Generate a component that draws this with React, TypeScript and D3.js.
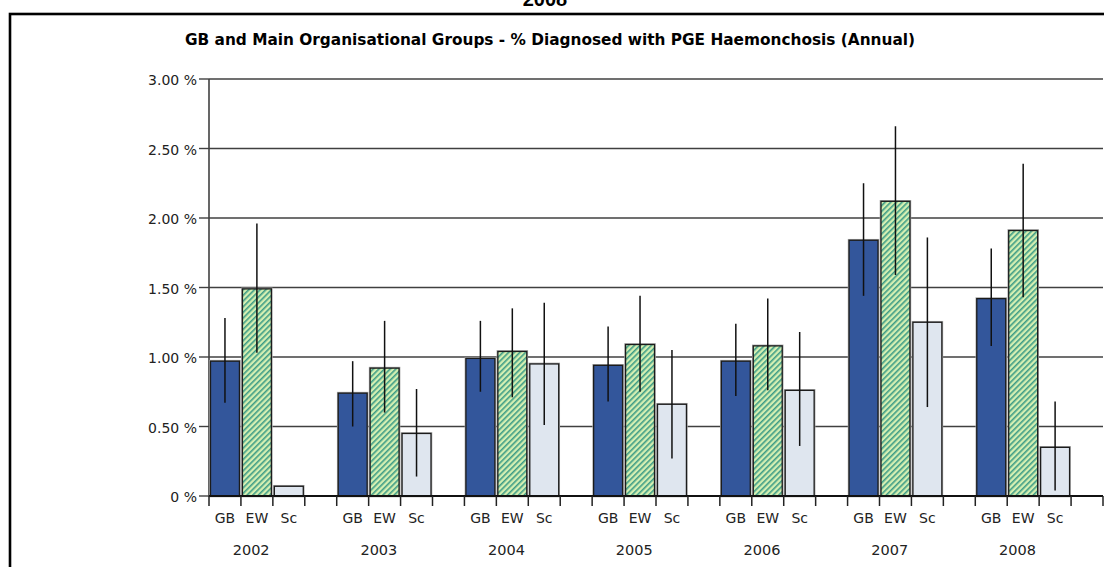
import React from 'react';
import * as d3 from 'd3';

const years = ['2002', '2003', '2004', '2005', '2006', '2007', '2008'];
const groups = ['GB', 'EW', 'Sc'];
const slots = ['GB', 'EW', 'Sc', 'gap'];

const gbValues = [0.97, 0.74, 0.99, 0.94, 0.97, 1.84, 1.42];
const gbLow = [0.67, 0.50, 0.75, 0.68, 0.72, 1.44, 1.08];
const gbHigh = [1.28, 0.97, 1.26, 1.22, 1.24, 2.25, 1.78];

const ewValues = [1.49, 0.92, 1.04, 1.09, 1.08, 2.12, 1.91];
const ewLow = [1.03, 0.60, 0.71, 0.75, 0.76, 1.59, 1.43];
const ewHigh = [1.96, 1.26, 1.35, 1.44, 1.42, 2.66, 2.39];

const scValues = [0.07, 0.45, 0.95, 0.66, 0.76, 1.25, 0.35];
const scLow: (number | null)[] = [null, 0.14, 0.51, 0.27, 0.36, 0.64, 0.04];
const scHigh: (number | null)[] = [null, 0.77, 1.39, 1.05, 1.18, 1.86, 0.68];

const yTicks = [0, 0.5, 1, 1.5, 2, 2.5, 3];

const chartTitle = 'GB and Main Organisational Groups -  % Diagnosed with PGE Haemonchosis (Annual)';
const topTitle = '2008';

const W = 1104;
const H = 567;
const left = 209;
const right = 1103;
const top = 79;
const bottom = 496;

export default function App() {
  const x0 = d3.scaleBand<string>().domain(years).range([left, right]).paddingInner(0).paddingOuter(0);
  const x1 = d3.scaleBand<string>().domain(slots).range([0, x0.bandwidth()]);
  const y = d3.scaleLinear().domain([0, 3]).range([bottom, top]);

  const series = [
    { key: 'GB', values: gbValues, low: gbLow as (number | null)[], high: gbHigh as (number | null)[], fill: '#33569b' },
    { key: 'EW', values: ewValues, low: ewLow as (number | null)[], high: ewHigh as (number | null)[], fill: 'url(#hatch)' },
    { key: 'Sc', values: scValues, low: scLow, high: scHigh, fill: '#dfe6ef' },
  ];

  const sw = x1.bandwidth();
  const barW = sw - 3;

  const tickXs: number[] = [];
  years.forEach((yr) => {
    slots.forEach((s) => tickXs.push((x0(yr) as number) + (x1(s) as number)));
  });
  tickXs.push(right);

  const font = '"DejaVu Sans", Verdana, sans-serif';

  return (
    <svg width={W} height={H} style={{ position: 'absolute', left: 0, top: 0, background: '#fff' }}>
      <defs>
        <pattern id="hatch" patternUnits="userSpaceOnUse" width="4" height="4" patternTransform="rotate(45)">
          <rect width="4" height="4" fill="#d4efb2" />
          <rect width="1.6" height="4" fill="#3e9c86" />
        </pattern>
      </defs>
      <rect x={0} y={0} width={W} height={H} fill="#fff" />
      <text x={545} y={6} textAnchor="middle" fontFamily="Arial, 'Liberation Sans', sans-serif" fontWeight="bold" fontSize={20} fill="#000">
        {topTitle}
      </text>
      <rect x={10} y={14} width={1200} height={700} fill="none" stroke="#000" strokeWidth={2.6} />
      <text x={550} y={45} textAnchor="middle" fontFamily={font} fontWeight="bold" fontSize={15} fill="#000" textLength={730} lengthAdjust="spacingAndGlyphs">
        {chartTitle}
      </text>

      {/* gridlines and y ticks */}
      {yTicks.map((t) => (
        <g key={t}>
          <line x1={left} x2={right} y1={y(t)} y2={y(t)} stroke="#404040" strokeWidth={1.4} />
          <line x1={199} x2={left} y1={y(t)} y2={y(t)} stroke="#404040" strokeWidth={1.4} />
          <text x={197} y={y(t) + 6} textAnchor="end" fontFamily={font} fontSize={14} fill="#222">
            {t === 0 ? '0 %' : d3.format('.2f')(t) + ' %'}
          </text>
        </g>
      ))}
      <line x1={left} x2={left} y1={top} y2={bottom} stroke="#404040" strokeWidth={1.6} />

      {/* bars */}
      {series.map((s) =>
        years.map((yr, i) => {
          const cx = (x0(yr) as number) + (x1(s.key) as number) + sw / 2;
          const v = s.values[i];
          return (
            <g key={s.key + yr}>
              <rect x={cx - barW / 2} y={y(v)} width={barW} height={y(0) - y(v)} fill={s.fill} stroke="#a8a8a8" strokeWidth={2.6} />
              <rect x={cx - barW / 2} y={y(v)} width={barW} height={y(0) - y(v)} fill={s.fill} stroke="#1c1c1c" strokeWidth={1.3} />
            </g>
          );
        })
      )}
      {/* error bars */}
      {series.map((s) =>
        years.map((yr, i) => {
          const lo = s.low[i];
          const hi = s.high[i];
          if (lo == null || hi == null) return null;
          const cx = (x0(yr) as number) + (x1(s.key) as number) + sw / 2;
          return <line key={'e' + s.key + yr} x1={cx} x2={cx} y1={y(hi)} y2={y(lo)} stroke="#111" strokeWidth={1.5} />;
        })
      )}

      {/* x axis */}
      <line x1={left} x2={right} y1={bottom} y2={bottom} stroke="#111" strokeWidth={2} />
      {tickXs.map((tx, i) => (
        <line key={'t' + i} x1={tx} x2={tx} y1={bottom} y2={bottom + 10} stroke="#222" strokeWidth={1.5} />
      ))}
      {years.map((yr) => (
        <g key={'l' + yr}>
          {groups.map((g) => (
            <text key={g} x={(x0(yr) as number) + (x1(g) as number) + sw / 2} y={523} textAnchor="middle" fontFamily={font} fontSize={14} fill="#222">
              {g}
            </text>
          ))}
          <text x={(x0(yr) as number) + sw * 1.32} y={555} textAnchor="middle" fontFamily={font} fontSize={14.5} fill="#222">
            {yr}
          </text>
        </g>
      ))}
    </svg>
  );
}
